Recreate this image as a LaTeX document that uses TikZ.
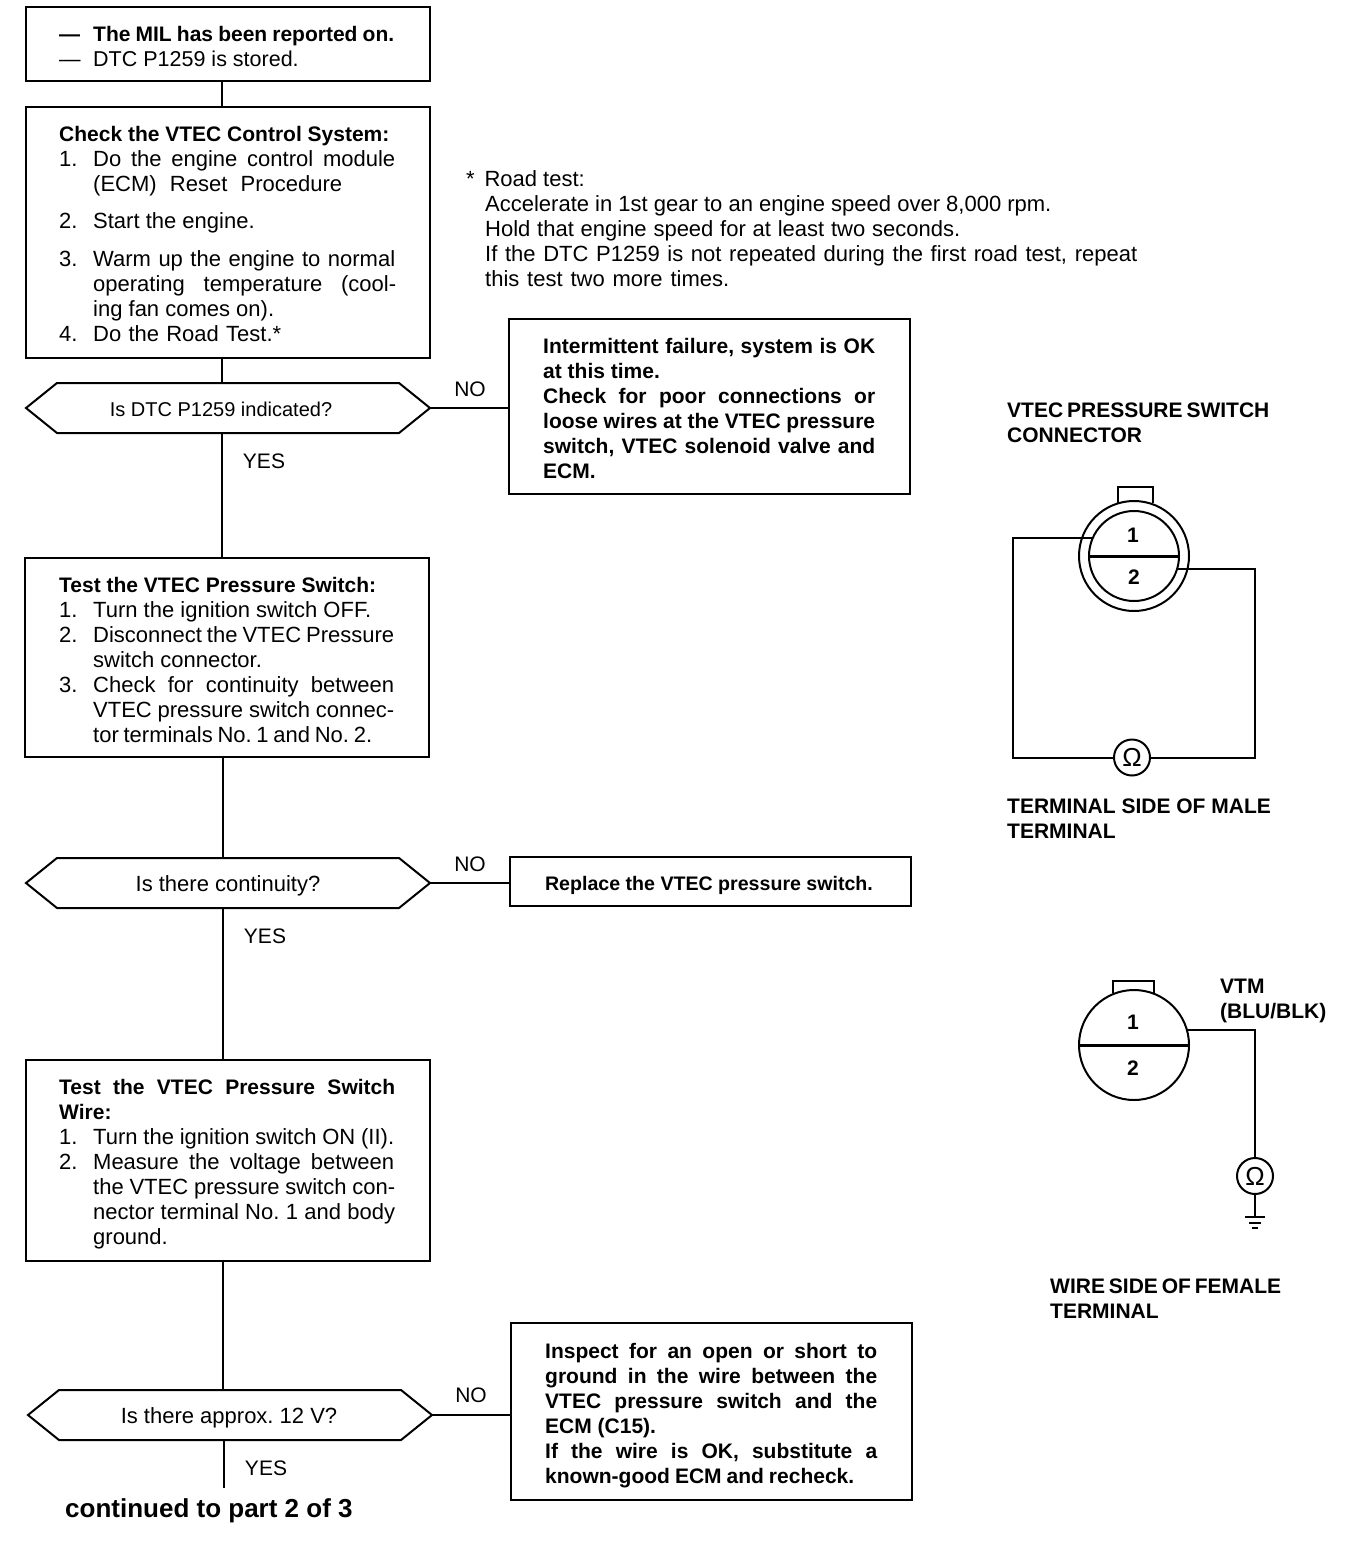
\documentclass[tikz,border=0pt]{standalone}
\usepackage{fontspec}
\setmainfont{Liberation Sans}
\usetikzlibrary{calc, shapes.symbols}

\frenchspacing
\newcommand{\itm}[1]{\makebox[34pt][l]{#1}}
\newcommand{\cont}{\hspace*{34pt}}
\newcommand{\fitw}[2]{\makebox[#1pt][s]{#2}}

\tikzset{
    box/.style={draw, rectangle, line width=2pt, outer sep=0, inner sep=0, anchor=north west},
    decision/.style={draw, signal, signal to=east and west, signal pointer angle=77.8, line width=2pt, outer sep=0, inner sep=0, minimum width=404pt, minimum height=50pt},
    txt/.style={anchor=north west, align=left, inner sep=0, font=\fontsize{22}{25}\selectfont, execute at begin node=\strut},
    boldtxt/.style={txt, font=\fontsize{21}{25}\selectfont\bfseries},
    answer/.style={inner sep=0, font=\fontsize{21}{25}\selectfont},
    wire/.style={line width=2pt},
    ohm/.style={draw, circle, line width=2pt, outer sep=0, inner sep=0, minimum size=36pt, font=\fontsize{26}{26}\selectfont},
    pin/.style={inner sep=0, font=\fontsize{21}{25}\selectfont\bfseries}
}

\begin{document}
\begin{tikzpicture}[x=1pt,y=-1pt]
    \useasboundingbox (0,0) rectangle (1344,1550);

    % main column
    \coordinate (trunkA) at (222,0);
    \coordinate (trunkB) at (223,0);
    \coordinate (trunkC) at (224,0);

    \node[box, minimum width=404pt, minimum height=74pt] (mil) at (26,7) {};
    \node[boldtxt] (miltxt) at (59,26) {\itm{—}\fitw{301}{The MIL has been reported on.}\\\mdseries\fontsize{21.5}{25}\selectfont\itm{—}DTC P1259 is stored.};

    \node[box, minimum width=404pt, minimum height=251pt] (check) at (26,107) {};
    \node[txt] (checktxt) at (59,126) {{\fontsize{21}{25}\selectfont\bfseries Check the VTEC Control System:}\\
        \itm{1.}\fitw{302}{Do the engine control module}\\
        \cont\fitw{249}{(ECM) Reset Procedure}\\[12pt]
        \itm{2.}Start the engine.\\[13pt]
        \itm{3.}\fitw{302}{Warm up the engine to normal}\\
        \cont\fitw{303}{operating temperature (cool-}\\
        \cont ing fan comes on).\\
        \itm{4.}\fitw{188}{Do the Road Test.*}};

    \node[decision] (dtc) at (228,408) {};
    \node[answer, font=\fontsize{20}{25}\selectfont] (dtctxt) at (221,409) {Is DTC P1259 indicated?};

    \node[box, minimum width=401pt, minimum height=175pt] (fail) at (509,319) {};
    \node[boldtxt] (failtxt) at (543,338) {\fitw{332}{Intermittent failure, system is OK}\\
        at this time.\\
        \fitw{332}{Check for poor connections or}\\
        \fitw{332}{loose wires at the VTEC pressure}\\
        \fitw{332}{switch, VTEC solenoid valve and}\\
        ECM.};

    \node[box, minimum width=404pt, minimum height=199pt] (switch) at (25,558) {};
    \node[txt] (switchtxt) at (59,577) {{\fontsize{21}{25}\selectfont\bfseries Test the VTEC Pressure Switch:}\\
        \itm{1.}Turn the ignition switch OFF.\\
        \itm{2.}\fitw{301}{Disconnect the VTEC Pressure}\\
        \cont switch connector.\\
        \itm{3.}\fitw{301}{Check for continuity between}\\
        \cont\fitw{301}{VTEC pressure switch connec-}\\
        \cont\fitw{279}{tor terminals No. 1 and No. 2.}};

    \node[decision] (cont) at (228,883) {};
    \node[answer, font=\fontsize{22}{25}\selectfont] (conttxt) at (228,886) {Is there continuity?};

    \node[box, minimum width=401pt, minimum height=49pt] (replace) at (510,857) {};
    \node[answer, font=\fontsize{19.6}{25}\selectfont\bfseries] (replacetxt) at (709,885) {Replace the VTEC pressure switch.};

    \node[box, minimum width=404pt, minimum height=201pt] (swire) at (26,1060) {};
    \node[txt] (swiretxt) at (59,1079) {{\fontsize{21}{25}\selectfont\bfseries\fitw{336}{Test the VTEC Pressure Switch}}\\
        {\fontsize{21}{25}\selectfont\bfseries Wire:}\\
        \itm{1.}\fitw{301}{Turn the ignition switch ON (II).}\\
        \itm{2.}\fitw{301}{Measure the voltage between}\\
        \cont\fitw{302}{the VTEC pressure switch con-}\\
        \cont\fitw{302}{nector terminal No. 1 and body}\\
        \cont ground.};

    \node[decision] (volt) at (230,1415) {};
    \node[answer, font=\fontsize{22}{25}\selectfont] (volttxt) at (229,1418) {Is there approx. 12 V?};

    \node[box, minimum width=401pt, minimum height=177pt] (inspect) at (511,1323) {};
    \node[boldtxt] (inspecttxt) at (545,1343) {\fitw{332}{Inspect for an open or short to}\\
        \fitw{332}{ground in the wire between the}\\
        \fitw{332}{VTEC pressure switch and the}\\
        ECM (C15).\\
        \fitw{332}{If the wire is OK, substitute a}\\
        \fitw{309}{known-good ECM and recheck.}};

    \coordinate (more) at (224,1488);
    \node[inner sep=0, anchor=west, font=\fontsize{26}{28}\selectfont\bfseries] (moretxt) at (65,1511) {continued to part 2 of 3};

    % connectors
    \draw[wire] (trunkA |- mil.south) -- (trunkA |- check.north);
    \draw[wire] (trunkA |- check.south) -- (trunkA |- dtc.north);
    \draw[wire] (trunkA |- dtc.south) -- (trunkA |- switch.north);
    \draw[wire] (trunkB |- switch.south) -- (trunkB |- cont.north);
    \draw[wire] (trunkB |- cont.south) -- (trunkB |- swire.north);
    \draw[wire] (trunkB |- swire.south) -- (trunkB |- volt.north);
    \draw[wire] (trunkC |- volt.south) -- (more);
    \draw[wire] (dtc.east) -- (dtc.east -| fail.west);
    \draw[wire] (cont.east) -- (cont.east -| replace.west);
    \draw[wire] (volt.east) -- (volt.east -| inspect.west);

    % yes and no
    \foreach \x/\y/\t in {470/389/NO, 264/461/YES, 470/864/NO, 265/936/YES, 471/1395/NO, 266/1468/YES}
    {
        \node[answer] (lbl\x\y) at (\x,\y) {\t};
    }

    % road test note
    \node[txt] (note) at (466,170) {* \,Road test:\\
        \hspace*{19pt}Accelerate in 1st gear to an engine speed over 8,000 rpm.\\
        \hspace*{19pt}\fitw{475}{Hold that engine speed for at least two seconds.}\\
        \hspace*{19pt}\fitw{652}{If the DTC P1259 is not repeated during the first road test, repeat}\\
        \hspace*{19pt}\fitw{244}{this test two more times.}};

    % male terminal
    \node[boldtxt] (maletitle) at (1007,403) {\fitw{260}{VTEC PRESSURE SWITCH}\\CONNECTOR};
    \node[draw, circle, wire, outer sep=0, inner sep=0, minimum size=110pt] (malering) at (1134,556) {};
    \node[draw, circle, wire, outer sep=0, inner sep=0, minimum size=90pt] (malecore) at (1134,556) {};
    \draw[wire] (1118,503) |- (1153,487) -- (1153,503);
    \draw[line width=3pt] (malecore.west) -- (malecore.east);
    \node[pin] (malea) at (1133,535) {1};
    \node[pin] (maleb) at (1134,577) {2};
    \node[ohm] (maleohm) at (1132,757.5) {Ω};
    \coordinate (wireL) at (1013,757.5);
    \coordinate (wireR) at (1255,757.5);
    \draw[wire] (malecore.156) -| (wireL) -- (maleohm.west);
    \draw[wire] (malecore.-17) -| (wireR) -- (maleohm.east);
    \node[boldtxt] (maleside) at (1007,799) {TERMINAL SIDE OF MALE\\TERMINAL};

    % female terminal
    \node[draw, circle, wire, outer sep=0, inner sep=0, minimum size=110pt] (femring) at (1134,1045) {};
    \draw[wire] (1113,993) |- (1154,981) -- (1154,993);
    \draw[line width=3pt] (femring.west) -- (femring.east);
    \node[pin] (fema) at (1133,1022) {1};
    \node[pin] (femb) at (1133,1068) {2};
    \node[boldtxt] (vtm) at (1220,979) {VTM\\(BLU/BLK)};
    \node[ohm] (femohm) at (1255,1176) {Ω};
    \coordinate (gnd) at (1255,1217);
    \draw[wire] (femring.16) -| (femohm.north);
    \draw[wire] (femohm.south) -- (gnd);
    \draw[wire] ($(gnd) + (-10,0)$) -- ($(gnd) + (10,0)$);
    \draw[wire] ($(gnd) + (-6,6)$) -- ($(gnd) + (6,6)$);
    \draw[wire] ($(gnd) + (-3,11)$) -- ($(gnd) + (3,11)$);
    \node[boldtxt] (femside) at (1050,1279) {\fitw{230}{WIRE SIDE OF FEMALE}\\TERMINAL};
\end{tikzpicture}
\end{document}
